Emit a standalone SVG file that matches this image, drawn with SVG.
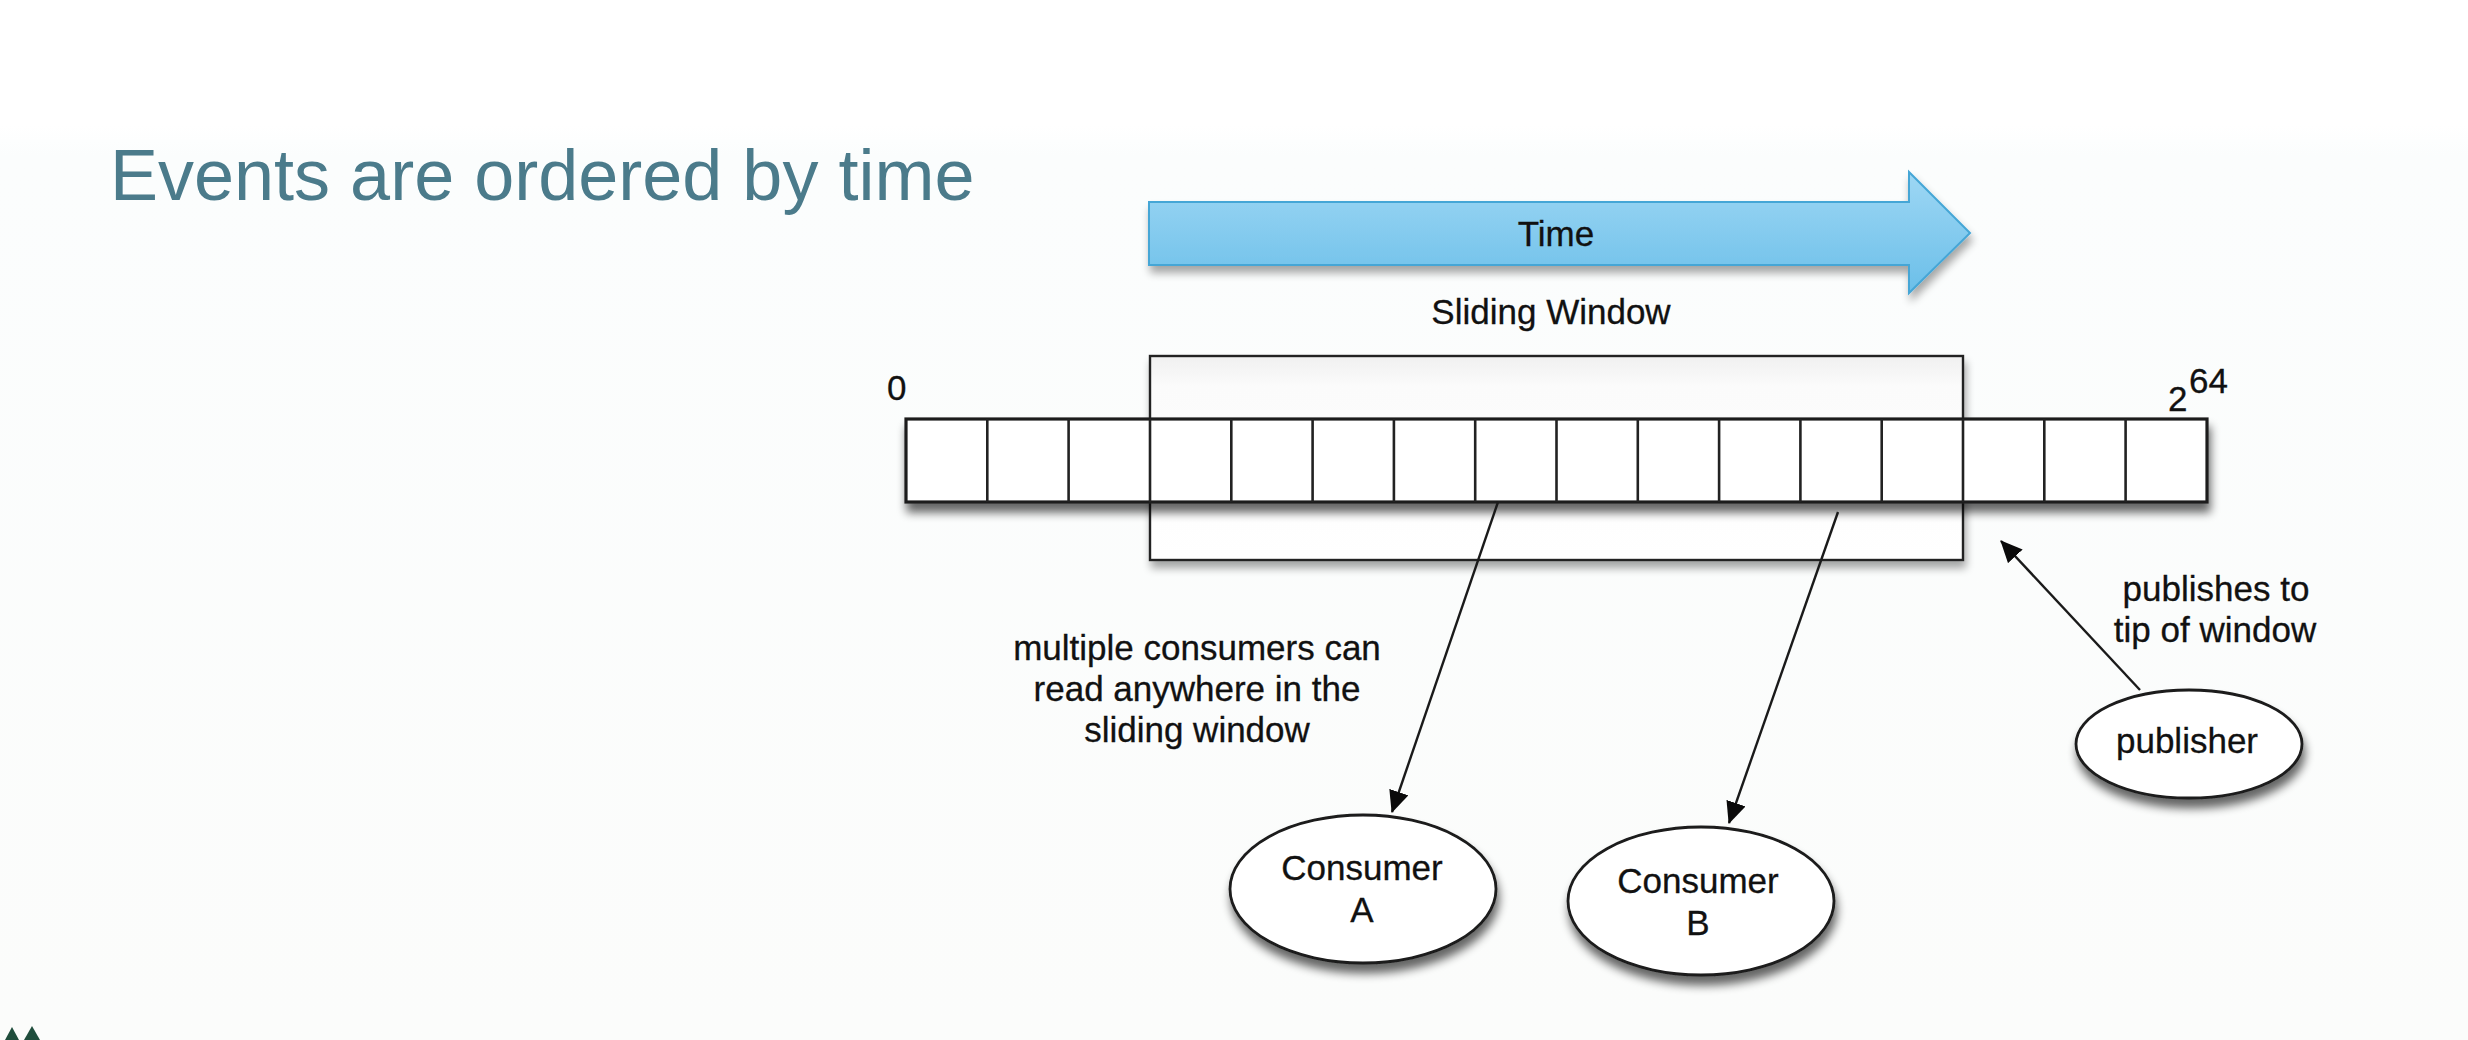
<svg xmlns="http://www.w3.org/2000/svg" width="2468" height="1040" viewBox="0 0 2468 1040">
<defs>
<style>
.t{font-family:"Liberation Sans",Arial,sans-serif;font-size:35px;fill:#111111;stroke:#111111;stroke-width:0.3}
.c{text-anchor:middle}
.cell{fill:none;stroke:#222;stroke-width:2.6}
.node{fill:#ffffff;stroke:#1a1a1a;stroke-width:2.8}
.conn{stroke:#1a1a1a;stroke-width:2.4;fill:none}
</style>
<linearGradient id="bg" x1="0" y1="0" x2="0" y2="1">
<stop offset="0" stop-color="#ffffff"/>
<stop offset="0.12" stop-color="#ffffff"/>
<stop offset="0.15" stop-color="#fbfdfd"/>
<stop offset="1" stop-color="#fbfcfb"/>
</linearGradient>
<linearGradient id="blue" x1="0" y1="0" x2="0" y2="1">
<stop offset="0" stop-color="#9ed7f4"/>
<stop offset="1" stop-color="#6bbfe9"/>
</linearGradient>
<linearGradient id="win" x1="0" y1="0" x2="0" y2="1">
<stop offset="0" stop-color="#f0f0f0"/>
<stop offset="0.15" stop-color="#fbfbfb"/>
<stop offset="1" stop-color="#ffffff"/>
</linearGradient>
<filter id="sh" x="-20%" y="-30%" width="140%" height="180%">
<feGaussianBlur in="SourceAlpha" stdDeviation="5"/>
<feOffset dx="2" dy="9" result="b"/>
<feComponentTransfer><feFuncA type="linear" slope="0.6"/></feComponentTransfer>
<feMerge><feMergeNode/><feMergeNode in="SourceGraphic"/></feMerge>
</filter>
<filter id="sh2" x="-20%" y="-30%" width="140%" height="180%">
<feGaussianBlur in="SourceAlpha" stdDeviation="4"/>
<feOffset dx="2" dy="7" result="b"/>
<feComponentTransfer><feFuncA type="linear" slope="0.35"/></feComponentTransfer>
<feMerge><feMergeNode/><feMergeNode in="SourceGraphic"/></feMerge>
</filter>
<marker id="ah" viewBox="0 0 22 20" refX="21" refY="10" markerWidth="22" markerHeight="20" markerUnits="userSpaceOnUse" orient="auto">
<path d="M0,0 L22,10 L0,20 Z" fill="#0a0a0a"/>
</marker>
</defs>
<rect width="2468" height="1040" fill="url(#bg)"/>

<text x="110" y="200" font-family="Liberation Sans,Arial,sans-serif" font-size="72" fill="#4b7b8b">Events are ordered by time</text>

<g id="time-arrow">
<path d="M1149,202 L1909,202 L1909,172 L1970,233 L1909,293 L1909,265 L1149,265 Z" fill="url(#blue)" stroke="#45a6d6" stroke-width="2" filter="url(#sh2)"/>
<text class="t c" x="1556" y="246">Time</text>
</g>

<g id="sliding-window">
<text class="t c" x="1551" y="324">Sliding Window</text>
<rect x="1150" y="356" width="813" height="204" fill="url(#win)" stroke="#222" stroke-width="2.4" filter="url(#sh2)"/>
</g>

<g id="strip">
<rect x="906" y="419" width="1301" height="83" fill="#ffffff" stroke="#1e1e1e" stroke-width="3.2" filter="url(#sh)"/>
<g class="cell">
<line x1="987.3" y1="419" x2="987.3" y2="502"/>
<line x1="1068.6" y1="419" x2="1068.6" y2="502"/>
<line x1="1150" y1="419" x2="1150" y2="502"/>
<line x1="1231.3" y1="419" x2="1231.3" y2="502"/>
<line x1="1312.6" y1="419" x2="1312.6" y2="502"/>
<line x1="1393.9" y1="419" x2="1393.9" y2="502"/>
<line x1="1475.2" y1="419" x2="1475.2" y2="502"/>
<line x1="1556.5" y1="419" x2="1556.5" y2="502"/>
<line x1="1637.8" y1="419" x2="1637.8" y2="502"/>
<line x1="1719.1" y1="419" x2="1719.1" y2="502"/>
<line x1="1800.4" y1="419" x2="1800.4" y2="502"/>
<line x1="1881.7" y1="419" x2="1881.7" y2="502"/>
<line x1="1963" y1="419" x2="1963" y2="502"/>
<line x1="2044.3" y1="419" x2="2044.3" y2="502"/>
<line x1="2125.6" y1="419" x2="2125.6" y2="502"/>
</g>
<text class="t" x="887" y="400" font-size="33">0</text>
<text class="t" x="2168" y="411" font-size="33">2</text>
<text class="t" x="2189" y="393" font-size="30">64</text>
</g>

<g id="connectors">
<line class="conn" x1="1498" y1="502" x2="1392" y2="812" marker-end="url(#ah)"/>
<line class="conn" x1="1838" y1="512" x2="1729" y2="823" marker-end="url(#ah)"/>
<line class="conn" x1="2140" y1="690" x2="2001" y2="541" marker-end="url(#ah)"/>
</g>

<g id="label-consumers">
<text class="t c" x="1197" y="660">multiple consumers can</text>
<text class="t c" x="1197" y="701">read anywhere in the</text>
<text class="t c" x="1197" y="742">sliding window</text>
</g>

<g id="label-publisher">
<text class="t c" x="2216" y="601">publishes to</text>
<text class="t c" x="2215" y="642">tip of window</text>
</g>

<g id="consumer-a">
<ellipse class="node" cx="1363" cy="889" rx="133" ry="74" filter="url(#sh)"/>
<text class="t c" x="1362" y="880">Consumer</text>
<text class="t c" x="1362" y="922">A</text>
</g>

<g id="consumer-b">
<ellipse class="node" cx="1701" cy="901" rx="133" ry="74" filter="url(#sh)"/>
<text class="t c" x="1698" y="893">Consumer</text>
<text class="t c" x="1698" y="935">B</text>
</g>

<g id="publisher">
<ellipse class="node" cx="2189" cy="744" rx="113" ry="54" filter="url(#sh)"/>
<text class="t c" x="2187" y="753">publisher</text>
</g>

<g id="logo-fragment" fill="#1f4d3c">
<path d="M5,1040 L12,1027 L19,1040 Z"/>
<path d="M24,1040 L32,1026 L40,1040 Z"/>
</g>
</svg>
